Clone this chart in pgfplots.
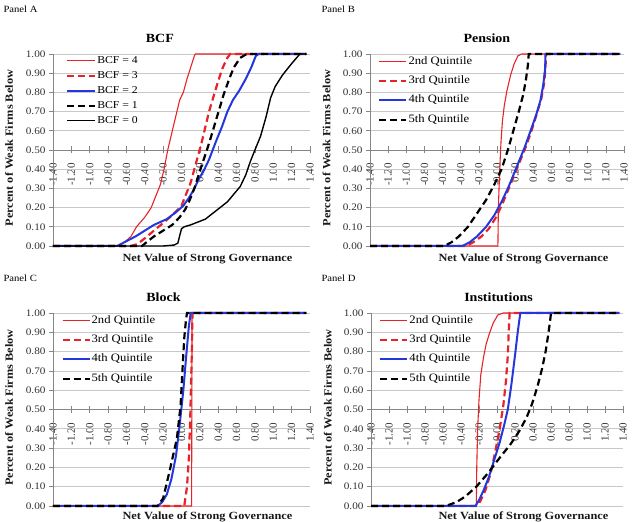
\documentclass[border=0pt]{standalone}
\usepackage{pgfplots}
\pgfplotsset{compat=1.18}
\usepackage{fontspec}
\setmainfont{Liberation Serif}[FakeStretch=1.12]
\newfontfamily\rotserif{Liberation Serif}

\definecolor{exred}{RGB}{230,35,40}
\definecolor{exblue}{RGB}{35,55,220}
\definecolor{axgray}{RGB}{134,134,134}
\definecolor{gridgray}{RGB}{200,200,200}

\pgfplotsset{
  % main panel: y axis, grid, data, titles
  base/.style={
    scale only axis,
    xmin=-1.4, xmax=1.4, ymin=0, ymax=1,
    clip=false,
    axis y line=left, axis x line=bottom,
    axis line style={-},
    x axis line style={draw=none},
    y axis line style={axgray, line width=0.7pt},
    xtick=\empty,
    ytick={0,0.1,0.2,0.3,0.4,0.6,0.7,0.8,0.9,1},
    yticklabels={0.00,0.10,0.20,0.30,0.40,0.60,0.70,0.80,0.90,1.00},
    extra y ticks={0.5}, extra y tick labels={0.50},
    extra y tick style={grid=none},
    ymajorgrids, grid style={gridgray, line width=0.6pt},
    tick align=outside, major tick length=4pt,
    tick style={axgray, line width=0.6pt},
    yticklabel style={font=\fontsize{10}{12}\selectfont, text=black!80},
    xlabel={Net Value of Strong Governance},
    ylabel={Percent of Weak Firms Below},
    label style={font=\bfseries\fontsize{11}{13}\selectfont, text=black!90},
    ylabel style={at={(axis description cs:-0.171,0.51)}, anchor=center},
    title style={font=\bfseries\fontsize{12.5}{14}\selectfont, anchor=center, yshift=10pt},
    legend cell align=left,
    legend style={draw=none, fill=none, anchor=north west, inner sep=0pt},
  },
  % horizontal axis crossing at the middle of the panel
  xover/.style={
    scale only axis,
    xmin=-1.4, xmax=1.4, ymin=-0.5, ymax=0.5,
    axis x line=middle, axis y line=none,
    axis line style={-},
    x axis line style={axgray, line width=0.8pt},
    xtick={-1.4,-1.2,-1,-0.8,-0.6,-0.4,-0.2,0,0.2,0.4,0.6,0.8,1,1.2,1.4},
    ytick=\empty,
    hide obscured x ticks=false,
    tick align=center, major tick length=7pt,
    tick style={axgray, line width=0.6pt},
    tick label style={font=\rotserif\fontsize{11}{13}\selectfont},
    xticklabel style={font=\rotserif\fontsize{11}{13}\selectfont, text=black!80, rotate=90, anchor=east},
    xticklabel shift=6pt,
  },
  s4/.style={exred, line width=1.1pt},
  s3/.style={exred, line width=2.2pt, dash pattern=on 7pt off 4pt},
  s2/.style={exblue, line width=2pt},
  s1/.style={black, line width=2.2pt, dash pattern=on 7pt off 4pt},
  s0/.style={black, line width=1.4pt},
  legA/.style={
    legend style={at={(axis description cs:0.05,0.997)}, font=\fontsize{10.5}{12}\selectfont,
      row sep=3pt, nodes={inner sep=1pt, text height=7.5pt, text depth=2.5pt}},
    legend image code/.code={\draw[##1] (0pt,0pt) -- (28pt,0pt);},
  },
  legQ/.style={
    legend style={at={(axis description cs:0.032,0.992)}, font=\fontsize{11.3}{13}\selectfont,
      row sep=7.3pt, nodes={inner sep=1pt, text height=7.5pt, text depth=2.5pt}},
    legend image code/.code={\draw[##1] (0pt,0pt) -- (27pt,0pt);},
  },
}

\newcommand{\ticksA}{-1.40,-1.20,-1.00,-0.80,-0.60,-0.40,-0.20,0.00,0.20,0.40,0.60,0.80,1.00,1.20,1.40}
\newcommand{\ticksB}{-1.40,-1.20,-1.00,-0.80,-0.60,-0.40,-0.20,-0.00,0.20,0.40,0.60,0.80,1.00,1.20,1.40}

\begin{document}
\begin{tikzpicture}

\node[anchor=west, font=\fontsize{9.5}{11}\selectfont] at (0pt,513pt) {Panel A};
\node[anchor=west, font=\fontsize{9.5}{11}\selectfont] at (318pt,513pt) {Panel B};
\node[anchor=west, font=\fontsize{9.5}{11}\selectfont] at (0pt,244pt) {Panel C};
\node[anchor=west, font=\fontsize{9.5}{11}\selectfont] at (318pt,244pt) {Panel D};

% ---------------- Panel A: BCF ----------------
\begin{axis}[xover, at={(53pt,468pt)}, anchor=north west, width=257pt, height=192pt,
  xticklabels/.expanded={\ticksA}]
\end{axis}
\begin{axis}[base, legA, at={(53pt,468pt)}, anchor=north west, width=257pt, height=192pt,
  title={BCF}, title style={at={(axis description cs:0.416,1)}},
  xlabel style={at={(axis description cs:0.601,0)}, anchor=center, yshift=-13pt}]
\addplot[s4] coordinates {(-1.40,0) (-0.70,0) (-0.62,0.02) (-0.55,0.05) (-0.49,0.10) (-0.40,0.15) (-0.33,0.20) (-0.28,0.26) (-0.23,0.32) (-0.19,0.40) (-0.15,0.50) (-0.11,0.58) (-0.07,0.66) (-0.02,0.76) (0.02,0.80) (0.06,0.87) (0.10,0.93) (0.14,0.99) (0.15,1.00) (1.36,1.00)};
\addlegendentry{BCF = 4}
\addplot[s3] coordinates {(-1.40,0) (-0.55,0) (-0.48,0.01) (-0.40,0.04) (-0.30,0.08) (-0.20,0.12) (-0.10,0.16) (0.00,0.21) (0.05,0.27) (0.10,0.33) (0.14,0.40) (0.18,0.47) (0.22,0.54) (0.26,0.62) (0.30,0.70) (0.35,0.78) (0.40,0.86) (0.45,0.93) (0.50,0.98) (0.53,1.00) (1.36,1.00)};
\addlegendentry{BCF = 3}
\addplot[s2] coordinates {(-1.40,0) (-0.70,0) (-0.62,0.02) (-0.50,0.05) (-0.40,0.08) (-0.30,0.11) (-0.16,0.14) (-0.05,0.18) (0.02,0.21) (0.08,0.25) (0.13,0.29) (0.19,0.35) (0.24,0.39) (0.30,0.45) (0.34,0.50) (0.38,0.55) (0.44,0.62) (0.50,0.70) (0.56,0.76) (0.63,0.81) (0.70,0.87) (0.76,0.93) (0.81,0.99) (0.84,1.00) (1.36,1.00)};
\addlegendentry{BCF = 2}
\addplot[s1] coordinates {(-1.40,0) (-0.43,0) (-0.38,0.02) (-0.30,0.05) (-0.20,0.08) (-0.10,0.11) (-0.02,0.15) (0.04,0.19) (0.09,0.24) (0.14,0.30) (0.18,0.36) (0.22,0.42) (0.27,0.49) (0.31,0.55) (0.36,0.63) (0.41,0.71) (0.46,0.79) (0.52,0.87) (0.57,0.93) (0.64,0.98) (0.71,1.00) (1.36,1.00)};
\addlegendentry{BCF = 1}
\addplot[s0] coordinates {(-1.40,0) (-0.20,0) (-0.08,0.005) (-0.04,0.015) (0.00,0.09) (0.03,0.10) (0.10,0.11) (0.18,0.125) (0.26,0.14) (0.34,0.17) (0.42,0.20) (0.50,0.23) (0.57,0.27) (0.64,0.31) (0.70,0.37) (0.75,0.44) (0.80,0.50) (0.86,0.57) (0.92,0.67) (0.97,0.77) (1.02,0.83) (1.10,0.89) (1.20,0.95) (1.29,1.00) (1.36,1.00)};
\addlegendentry{BCF = 0}
\end{axis}

% ---------------- Panel B: Pension ----------------
\begin{axis}[xover, at={(370pt,468pt)}, anchor=north west, width=254pt, height=192pt,
  xticklabels/.expanded={\ticksB}]
\end{axis}
\begin{axis}[base, legQ, at={(370pt,468pt)}, anchor=north west, width=254pt, height=192pt,
  title={Pension}, title style={at={(axis description cs:0.46,1)}},
  xlabel style={at={(axis description cs:0.604,0)}, anchor=center, yshift=-13pt}]
\addplot[s4] coordinates {(-1.40,0) (0.01,0) (0.015,0.20) (0.03,0.40) (0.045,0.55) (0.06,0.65) (0.08,0.73) (0.11,0.81) (0.15,0.89) (0.19,0.95) (0.23,0.99) (0.27,1.00) (1.36,1.00)};
\addlegendentry{2nd Quintile}
\addplot[s3] coordinates {(-1.40,0) (-0.34,0) (-0.26,0.02) (-0.17,0.05) (-0.09,0.09) (-0.01,0.15) (0.06,0.22) (0.13,0.30) (0.20,0.38) (0.26,0.45) (0.32,0.52) (0.38,0.60) (0.44,0.69) (0.49,0.77) (0.52,0.85) (0.535,0.93) (0.54,1.00) (1.36,1.00)};
\addlegendentry{3rd Quintile}
\addplot[s2] coordinates {(-1.40,0) (-0.38,0) (-0.30,0.02) (-0.22,0.05) (-0.12,0.10) (-0.03,0.16) (0.05,0.23) (0.12,0.30) (0.19,0.38) (0.25,0.45) (0.31,0.52) (0.37,0.60) (0.43,0.68) (0.48,0.76) (0.51,0.84) (0.53,0.92) (0.535,1.00) (1.36,1.00)};
\addlegendentry{4th Quintile}
\addplot[s1] coordinates {(-1.40,0) (-0.58,0) (-0.50,0.02) (-0.42,0.05) (-0.32,0.10) (-0.22,0.17) (-0.12,0.24) (-0.03,0.32) (0.05,0.40) (0.12,0.50) (0.18,0.60) (0.24,0.70) (0.29,0.79) (0.32,0.87) (0.34,0.94) (0.35,1.00) (1.36,1.00)};
\addlegendentry{5th Quintile}
\end{axis}

% ---------------- Panel C: Block ----------------
\begin{axis}[xover, at={(53pt,209pt)}, anchor=north west, width=257pt, height=193pt,
  xticklabels/.expanded={\ticksA}]
\end{axis}
\begin{axis}[base, legQ, at={(53pt,209pt)}, anchor=north west, width=257pt, height=193pt,
  title={Block}, title style={at={(axis description cs:0.43,1)}},
  xlabel style={at={(axis description cs:0.601,0)}, anchor=center, yshift=-11.3pt}]
\addplot[s4] coordinates {(-1.40,0) (0.11,0) (0.115,1.00) (1.36,1.00)};
\addlegendentry{2nd Quintile}
\addplot[s3] coordinates {(-1.40,0) (0.03,0) (0.06,0.10) (0.08,0.25) (0.095,0.45) (0.105,0.65) (0.115,0.85) (0.12,1.00) (1.36,1.00)};
\addlegendentry{3rd Quintile}
\addplot[s2] coordinates {(-1.40,0) (-0.26,0) (-0.21,0.02) (-0.16,0.06) (-0.11,0.14) (-0.06,0.26) (-0.02,0.42) (0.02,0.60) (0.05,0.77) (0.08,0.93) (0.10,1.00) (1.36,1.00)};
\addlegendentry{4th Quintile}
\addplot[s1] coordinates {(-1.40,0) (-0.26,0) (-0.20,0.04) (-0.13,0.18) (-0.05,0.35) (-0.01,0.52) (0.01,0.70) (0.03,0.87) (0.05,0.97) (0.06,1.00) (1.36,1.00)};
\addlegendentry{5th Quintile}
\end{axis}

% ---------------- Panel D: Institutions ----------------
\begin{axis}[xover, at={(371pt,209pt)}, anchor=north west, width=252pt, height=193pt,
  xticklabels/.expanded={\ticksB}]
\end{axis}
\begin{axis}[base, legQ, at={(371pt,209pt)}, anchor=north west, width=252pt, height=193pt,
  title={Institutions}, title style={at={(axis description cs:0.506,1)}},
  xlabel style={at={(axis description cs:0.605,0)}, anchor=center, yshift=-11.3pt}]
\addplot[s4] coordinates {(-1.40,0) (-0.23,0) (-0.225,0.20) (-0.215,0.40) (-0.20,0.55) (-0.18,0.68) (-0.15,0.77) (-0.12,0.84) (-0.08,0.90) (-0.04,0.95) (0.01,0.99) (0.07,1.00) (1.36,1.00)};
\addlegendentry{2nd Quintile}
\addplot[s3] coordinates {(-1.40,0) (-0.22,0) (-0.18,0.03) (-0.13,0.08) (-0.07,0.17) (-0.02,0.28) (0.03,0.40) (0.07,0.52) (0.10,0.65) (0.12,0.78) (0.13,0.90) (0.14,1.00) (1.36,1.00)};
\addlegendentry{3rd Quintile}
\addplot[s2] coordinates {(-1.40,0) (-0.24,0) (-0.20,0.03) (-0.15,0.08) (-0.09,0.15) (-0.03,0.24) (0.03,0.33) (0.08,0.42) (0.12,0.50) (0.16,0.63) (0.20,0.78) (0.23,0.90) (0.25,0.97) (0.26,1.00) (1.36,1.00)};
\addlegendentry{4th Quintile}
\addplot[s1] coordinates {(-1.40,0) (-0.57,0) (-0.45,0.02) (-0.35,0.05) (-0.23,0.10) (-0.10,0.17) (0.03,0.25) (0.15,0.32) (0.25,0.39) (0.33,0.46) (0.39,0.53) (0.45,0.62) (0.50,0.71) (0.54,0.80) (0.57,0.89) (0.59,0.96) (0.60,1.00) (1.36,1.00)};
\addlegendentry{5th Quintile}
\end{axis}

\pgfresetboundingbox
\path[use as bounding box] (0pt,0pt) rectangle (632pt,522pt);
\end{tikzpicture}
\end{document}
